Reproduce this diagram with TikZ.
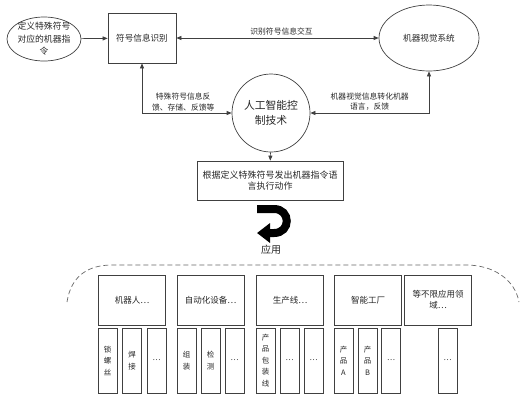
\documentclass[tikz,border=0pt]{standalone}
\usepackage{fontspec}
\setmainfont{Noto Sans CJK SC}
\usetikzlibrary{shapes.geometric,arrows.meta}

\begin{document}
\begin{tikzpicture}[x=1pt,y=-1pt,
	line/.style={draw=black!75,line width=0.7pt},
	tip/.style={-{Triangle[length=5pt,width=4pt]}},
	both/.style={{Triangle[length=5pt,width=4pt]}-{Triangle[length=5pt,width=4pt]}},
	note/.style={font=\fontsize{7.8}{10.5}\selectfont,align=center,text=black!85,inner sep=2pt},
	box/.style={line,rectangle,align=center,inner sep=1pt,text=black!85},
	field/.style={box,minimum width=67pt,minimum height=50pt,font=\fontsize{8.5}{11}\selectfont},
	cell/.style={box,minimum width=19pt,minimum height=65pt,font=\fontsize{7.5}{11.5}\selectfont}]
	\useasboundingbox (0,0) rectangle (524,400);

	%Top row
	\node [line,ellipse,minimum width=74pt,minimum height=44pt] (define) at (44,39) {};
	\node [align=center,text=black!85,font=\fontsize{8.8}{12.5}\selectfont] (definetext) at (define) {定义特殊符号\\对应的机器指\\令};
	\node [box,minimum width=68pt,minimum height=50pt,font=\fontsize{8.6}{11}\selectfont] (sym) at (142,38) {符号信息识别};
	\node [line,ellipse,minimum width=100pt,minimum height=66pt,text=black!85,font=\fontsize{8.6}{11}\selectfont] (vision) at (429,38) {机器视觉系统};

	%AI core and command
	\node [line,circle,minimum size=78pt,align=center,text=black!85,font=\fontsize{10.8}{15}\selectfont] (ai) at (271,113) {人工智能控\\制技术};
	\node [box,minimum width=146pt,minimum height=39pt,font=\fontsize{9}{11.5}\selectfont] (cmd) at (270,180.5) {根据定义特殊符号发出机器指令语\\言执行动作};

	%Connectors
	\draw [line,tip] (define) -- (sym);
	\draw [line,both] (sym) -- (vision) node [note,pos=0.52,above] {识别符号信息交互};
	\draw [line,both] (sym.south) |- (ai.west) node [note,pos=0.73,above] {特殊符号信息反\\馈、存储、反馈等};
	\draw [line,both] (ai.east) -| (vision.south) node [note,pos=0.25,above] {机器视觉信息转化机器\\语言，反馈};
	\draw [line,tip] (ai) -- (cmd);

	%Turn arrow
	\coordinate (turnstart) at (257,209);
	\coordinate (turnend) at (257,233);
	\draw [black,line width=8pt,-{Triangle[length=13pt,width=19pt]}] (turnstart) -- (274,209) .. controls (291,209) and (291,233) .. (274,233) -- (turnend);
	\node [text=black!85,font=\fontsize{10}{12}\selectfont] (apply) at (271,250) {应用};

	%Dashed frame
	\draw [draw=black!60,line width=0.7pt,dash pattern=on 5pt off 3pt] (67,302) .. controls (71,276) and (88,265) .. (112,265) -- (466,265) .. controls (494,265) and (515,280) .. (519,302);

	%Fields
	\node [field] (robot) at (132,300) {机器人…};
	\node [field] (auto) at (210.5,300) {自动化设备…};
	\node [field] (prod) at (290,300) {生产线…};
	\node [field] (factory) at (368,300) {智能工厂};
	\node [field] (other) at (438,300) {等不限应用领\\域…};

	%Cells
	\foreach \x/\t [count=\i] in {107.5/{锁\\螺\\丝},132/{焊\\接},156.5/…,
		186.5/{组\\装},210.5/{检\\测},234.5/…,
		265.5/{产\\品\\包\\装\\线},289.5/…,313.5/…,
		343.5/{产\\品\\A},367.5/{产\\品\\B},391/…,
		447.5/…}
		\node [cell] (cell\i) at (\x,360.5) {\t};
\end{tikzpicture}
\end{document}
